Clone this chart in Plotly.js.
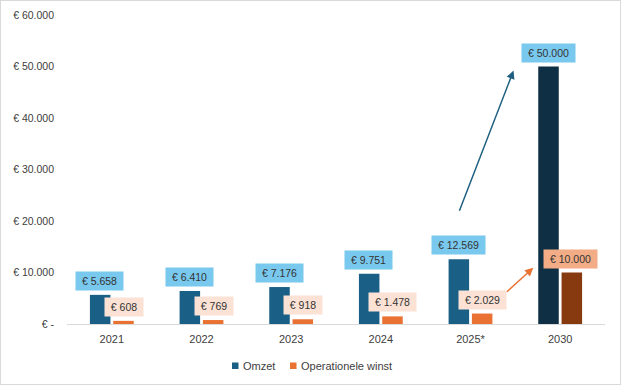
<!DOCTYPE html>
<html>
<head>
<meta charset="utf-8">
<script src="https://cdn.plot.ly/plotly-3.0.1.min.js"></script>
<style>
html,body{margin:0;padding:0;background:#fff;}
#wrap{position:relative;width:622px;height:386px;}
#chart{width:622px;height:386px;}
#frame{position:absolute;left:0;top:0;width:619px;height:383px;border:1px solid #d9d9d9;pointer-events:none;}
</style>
</head>
<body>
<div id="wrap"><div id="chart"></div><div id="frame"></div></div>
<script>
// ---- data ----
const years = ["2021", "2022", "2023", "2024", "2025*", "2030"];
const omzet = [5658, 6410, 7176, 9751, 12569, 50000];
const winst = [608, 769, 918, 1478, 2029, 10000];
const seriesNames = ["Omzet", "Operationele winst"];
const yTickVals = [0, 10000, 20000, 30000, 40000, 50000, 60000];
const yTickText = ["€ -", "€ 10.000", "€ 20.000", "€ 30.000", "€ 40.000", "€ 50.000", "€ 60.000"];
// growth arrows (category index, value): tail -> head
const arrowOmzet = [[3.87, 21700], [4.48, 49200]];
const arrowWinst = [[4.39, 6000], [4.70, 10900]];

// ---- style ----
const FONT = "Liberation Sans, Arial, sans-serif";
const blue = "#1a5f86", blueDark = "#0e2f44";
const orange = "#e97132", brown = "#873a10";
const blueLbl = "#79c8ee", orangeLbl = "#fbe2d5", orangeLblDark = "#f2ac86";

function fmt(v){ return "€ " + v.toString().replace(/\B(?=(\d{3})+(?!\d))/g, "."); }
const cv = document.createElement("canvas").getContext("2d");
cv.font = "10.5px 'Liberation Sans'";
function tw(s){ return Math.round(cv.measureText(s).width); }

const omzetColors = omzet.map((v,i)=> i===omzet.length-1 ? blueDark : blue);
const winstColors = winst.map((v,i)=> i===winst.length-1 ? brown : orange);

const traces = [
  {type:"bar", name:seriesNames[0], x:years, y:omzet, marker:{color:omzetColors}, hoverinfo:"none", showlegend:false},
  {type:"bar", name:seriesNames[1], x:years, y:winst, marker:{color:winstColors}, hoverinfo:"none", showlegend:false}
];

const ann = [];
years.forEach((yr,i)=>{
  const t1 = fmt(omzet[i]);
  ann.push({x:i, y:omzet[i], xref:"x", yref:"y", text:t1, showarrow:false,
    yanchor:"bottom", yshift:4, xshift:-12, bgcolor:blueLbl, borderpad:0,
    width:tw(t1)+12, height:18, font:{family:FONT,size:10.5,color:"#333"}});
  const t2 = fmt(winst[i]);
  ann.push({x:i, y:winst[i], xref:"x", yref:"y", text:t2, showarrow:false,
    yanchor:"bottom", yshift:4, xshift:(i===years.length-1?10:12),
    bgcolor:(i===years.length-1?orangeLblDark:orangeLbl), borderpad:0,
    width:tw(t2)+12, height:18, font:{family:FONT,size:10.5,color:"#333"}});
});
function arrow(a,color){
  return {x:a[1][0], y:a[1][1], ax:a[0][0], ay:a[0][1], xref:"x", yref:"y", axref:"x", ayref:"y",
    showarrow:true, arrowhead:2, arrowsize:1.1, arrowwidth:1.5, arrowcolor:color, text:""};
}
ann.push(arrow(arrowOmzet, "#1f5f80"));
ann.push(arrow(arrowWinst, "#e97132"));

// custom legend (squares + text)
const legY = 22/386; // container fraction from bottom
const legItems = [
  {name:seriesNames[0], color:blue, x0:232},
  {name:seriesNames[1], color:orange, x0:290}
];
const shapes = [];
legItems.forEach(it=>{
  shapes.push({type:"rect", xref:"paper", yref:"paper",
    x0:(it.x0-67)/538, x1:(it.x0+6.5-67)/538,
    y0:(324-369)/309, y1:(324-362.5)/309,
    line:{width:0}, fillcolor:it.color});
  ann.push({xref:"paper", yref:"paper", x:(it.x0+9-67)/538, y:(324-365.5)/309,
    xanchor:"left", yanchor:"middle", showarrow:false, text:it.name,
    font:{family:FONT,size:11,color:"#404040"}});
});

const layout = {
  width:622, height:386,
  margin:{l:67, r:17, t:15, b:62},
  paper_bgcolor:"#fff", plot_bgcolor:"#fff",
  font:{family:FONT, size:10.5, color:"#595959"},
  barmode:"group", bargap:0.48, bargroupgap:0.12,
  showlegend:false,
  xaxis:{type:"category", showline:true, linecolor:"#d9d9d9", linewidth:1, ticks:"",
    ticklabelstandoff:5,
    tickfont:{family:FONT,size:11,color:"#404040"}, fixedrange:true, showgrid:false},
  yaxis:{range:[0,60000], tickvals:yTickVals, ticktext:yTickText, showgrid:false,
    zeroline:false, showline:false, ticks:"", ticklabelstandoff:12,
    tickfont:{family:FONT,size:10.5,color:"#404040"}},
  annotations:ann,
  shapes:shapes
};
Plotly.newPlot("chart", traces, layout, {displayModeBar:false, staticPlot:true});
</script>
</body>
</html>
